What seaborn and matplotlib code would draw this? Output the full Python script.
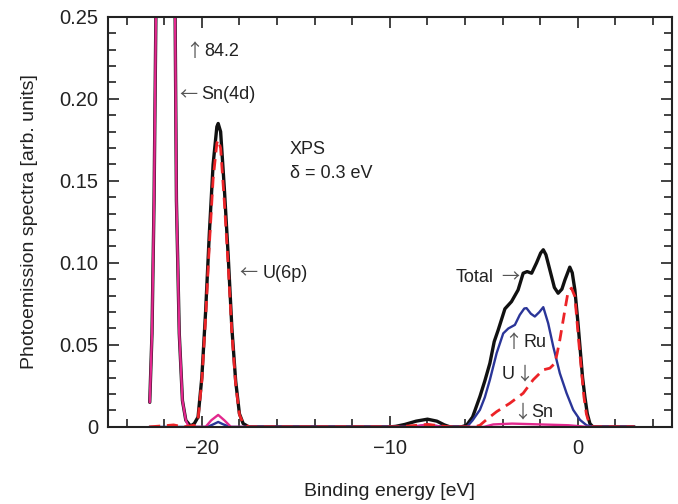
import numpy as np
import pandas as pd
import matplotlib
matplotlib.use('Agg')
import matplotlib.pyplot as plt
import seaborn as sns
from matplotlib.ticker import MultipleLocator, FuncFormatter

# ==============================
# Dados (energia de ligação em eV, intensidade)
# ==============================
total_e = [-22.77, -22.65, -22.54, -22.4, -21.9, -21.45, -21.35, -21.2, -21.03, -20.85, -20.6,
           -20.4, -20.2, -20.0, -19.8, -19.6, -19.4, -19.2, -19.13, -19.0, -18.8, -18.6, -18.4,
           -18.2, -18.0, -17.8, -17.5,
           -10.0, -9.7, -9.2, -8.6, -8.0, -7.5, -7.1, -6.8, -6.2,
           -5.92, -5.6, -5.21, -4.95, -4.68, -4.45, -4.24, -3.88, -3.53, -3.18, -2.91, -2.70,
           -2.46, -2.20, -1.98, -1.84, -1.70, -1.49, -1.25, -1.05, -0.85, -0.69, -0.43, -0.3,
           -0.16, 0.0, 0.11, 0.25, 0.37, 0.5, 0.64, 0.8, 3.0]
total_v = [0.015, 0.057, 0.138, 0.30, 84.2, 0.30, 0.138, 0.057, 0.016, 0.004, 0.0005,
           0.002, 0.006, 0.030, 0.070, 0.118, 0.160, 0.183, 0.185, 0.180, 0.145, 0.105, 0.060,
           0.028, 0.008, 0.002, 0.0,
           0.0, 0.0003, 0.0015, 0.0035, 0.0047, 0.0035, 0.0012, 0.0, 0.0,
           0.001, 0.006, 0.0185, 0.028, 0.0388, 0.052, 0.059, 0.072, 0.0764, 0.0835, 0.0937, 0.0947,
           0.0937, 0.100, 0.106, 0.108, 0.105, 0.0957, 0.085, 0.0815, 0.084, 0.0896, 0.0974, 0.094,
           0.0835, 0.064, 0.049, 0.030, 0.0185, 0.008, 0.002, 0.0, 0.0]

u_e = [-22.8, -21.9, -21.5, -21.0, -20.4, -20.2, -20.0, -19.8, -19.6, -19.4, -19.2, -19.13,
       -19.0, -18.8, -18.6, -18.4, -18.2, -18.0, -17.8, -17.5, -9.6, -8.0, -6.8, -5.5,
       -5.21, -4.8, -4.32, -3.62, -2.91, -2.38, -1.84, -1.49, -1.22, -1.1, -0.96, -0.69,
       -0.52, -0.34, -0.16, 0.07, 0.32, 0.45, 0.60, 0.75, 3.0]
u_v = [0.0, 0.0008, 0.0012, 0.0, 0.001, 0.005, 0.028, 0.066, 0.111, 0.151, 0.173, 0.175,
       0.170, 0.137, 0.099, 0.057, 0.026, 0.0075, 0.002, 0.0, 0.0, 0.0015, 0.0, 0.0,
       0.001, 0.005, 0.0093, 0.0144, 0.0205, 0.0287, 0.0348, 0.0358, 0.0388, 0.045, 0.053, 0.0713,
       0.0825, 0.0846, 0.0795, 0.049, 0.0185, 0.008, 0.002, 0.0, 0.0]

ru_e = [-22.8, -19.7, -19.4, -19.13, -18.85, -18.5, -9.0, -8.0, -7.0, -5.9, -5.6, -5.21,
        -4.95, -4.68, -4.32, -3.97, -3.70, -3.35, -3.09, -2.85, -2.73, -2.5, -2.29, -2.05,
        -1.84, -1.58, -1.31, -0.96, -0.60, -0.25, 0.11, 0.46, 0.82, 3.0]
ru_v = [0.0, 0.0, 0.0015, 0.003, 0.0015, 0.0, 0.0, 0.001, 0.0, 0.0, 0.004, 0.0104,
        0.018, 0.0287, 0.045, 0.057, 0.060, 0.0622, 0.0683, 0.0722, 0.0724, 0.069, 0.0673, 0.070,
        0.073, 0.0632, 0.049, 0.0327, 0.0205, 0.0104, 0.0043, 0.001, 0.0, 0.0]

sn_e = [-22.77, -22.65, -22.54, -22.4, -21.9, -21.45, -21.35, -21.2, -21.03, -20.85, -20.7,
        -19.8, -19.5, -19.13, -18.8, -18.45, -8.8, -8.0, -7.2, -5.0, -4.5, -3.5, -2.0, -0.5, 0.5, 3.0]
sn_v = [0.015, 0.057, 0.138, 0.30, 84.2, 0.30, 0.138, 0.057, 0.016, 0.004, 0.0,
        0.0, 0.004, 0.0073, 0.004, 0.0, 0.0, 0.0015, 0.0, 0.0, 0.0015, 0.002, 0.0015, 0.001, 0.0, 0.0]

# ==============================
# Estilo
# ==============================
sns.set_style('ticks')
plt.rcParams['font.family'] = ['Liberation Sans', 'DejaVu Sans']

fig = plt.figure(figsize=(6.78, 5.04), dpi=100)
ax = fig.add_axes([0.159, 0.153, 0.832, 0.8135])

preto = '#111111'
vermelho = '#ec2327'
azul = '#2a3598'
magenta = '#e2288e'

sns.lineplot(x=total_e, y=total_v, ax=ax, color=preto, lw=2.4, sort=False, estimator=None)
sns.lineplot(x=ru_e, y=ru_v, ax=ax, color=azul, lw=1.7, sort=False, estimator=None)
sns.lineplot(x=sn_e, y=sn_v, ax=ax, color=magenta, lw=1.7, sort=False, estimator=None)
sns.lineplot(x=u_e, y=u_v, ax=ax, color=vermelho, lw=2.0, sort=False, estimator=None,
             linestyle=(0, (4, 2.4)))

ax.set_xlim(-25, 5)
ax.set_ylim(0, 0.25)
ax.xaxis.set_major_locator(MultipleLocator(10))
ax.xaxis.set_minor_locator(MultipleLocator(2))
ax.yaxis.set_major_locator(MultipleLocator(0.05))
ax.yaxis.set_minor_locator(MultipleLocator(0.01))
ax.yaxis.set_major_formatter(FuncFormatter(lambda v, p: '0' if abs(v) < 1e-9 else f'{v:.2f}'))

ax.tick_params(which='both', direction='in', top=True, right=True, width=1.2, colors='#222222')
ax.tick_params(which='major', length=8, labelsize=14.5, pad=7)
ax.tick_params(which='minor', length=5.5)
ax.tick_params(axis='x', which='major', pad=9)
for s in ax.spines.values():
    s.set_linewidth(1.5)
    s.set_color('#222222')

ax.set_xlabel('Binding energy [eV]', fontsize=14, labelpad=18, color='#222222')
ax.set_ylabel('Photoemission spectra [arb. units]', fontsize=14, labelpad=15, color='#222222')

# ==============================
# Anotações (setas em fonte CJK, traço fino)
# ==============================
fs = 13
cor_txt = '#222222'
cor_seta = '#555555'
seta_font = ['Noto Sans CJK SC', 'DejaVu Sans']


def rotulo(x, y, txt, ha='left'):
    ax.text(x, y, txt, fontsize=fs, color=cor_txt, ha=ha, va='center')


def seta(x, y, s):
    ax.text(x, y, s, fontsize=fs, color=cor_seta, ha='center', va='center', family=seta_font)


seta(-20.43, 0.2288, '↑')
rotulo(-19.89, 0.2288, '84.2')
seta(-20.72, 0.2024, '←')
rotulo(-20.02, 0.2024, 'Sn(4d)')
rotulo(-15.32, 0.1689, 'XPS')
rotulo(-15.32, 0.1547, 'δ = 0.3 eV')
seta(-17.5, 0.0933, '←')
rotulo(-16.77, 0.0933, 'U(6p)')
rotulo(-6.49, 0.0909, 'Total')
seta(-3.59, 0.0909, '→')
seta(-3.43, 0.0512, '↑')
rotulo(-2.87, 0.0512, 'Ru')
rotulo(-4.06, 0.0317, 'U')
seta(-2.87, 0.0317, '↓')
seta(-2.98, 0.0085, '↓')
rotulo(-2.46, 0.0085, 'Sn')

fig.savefig('out.png', dpi=100)
